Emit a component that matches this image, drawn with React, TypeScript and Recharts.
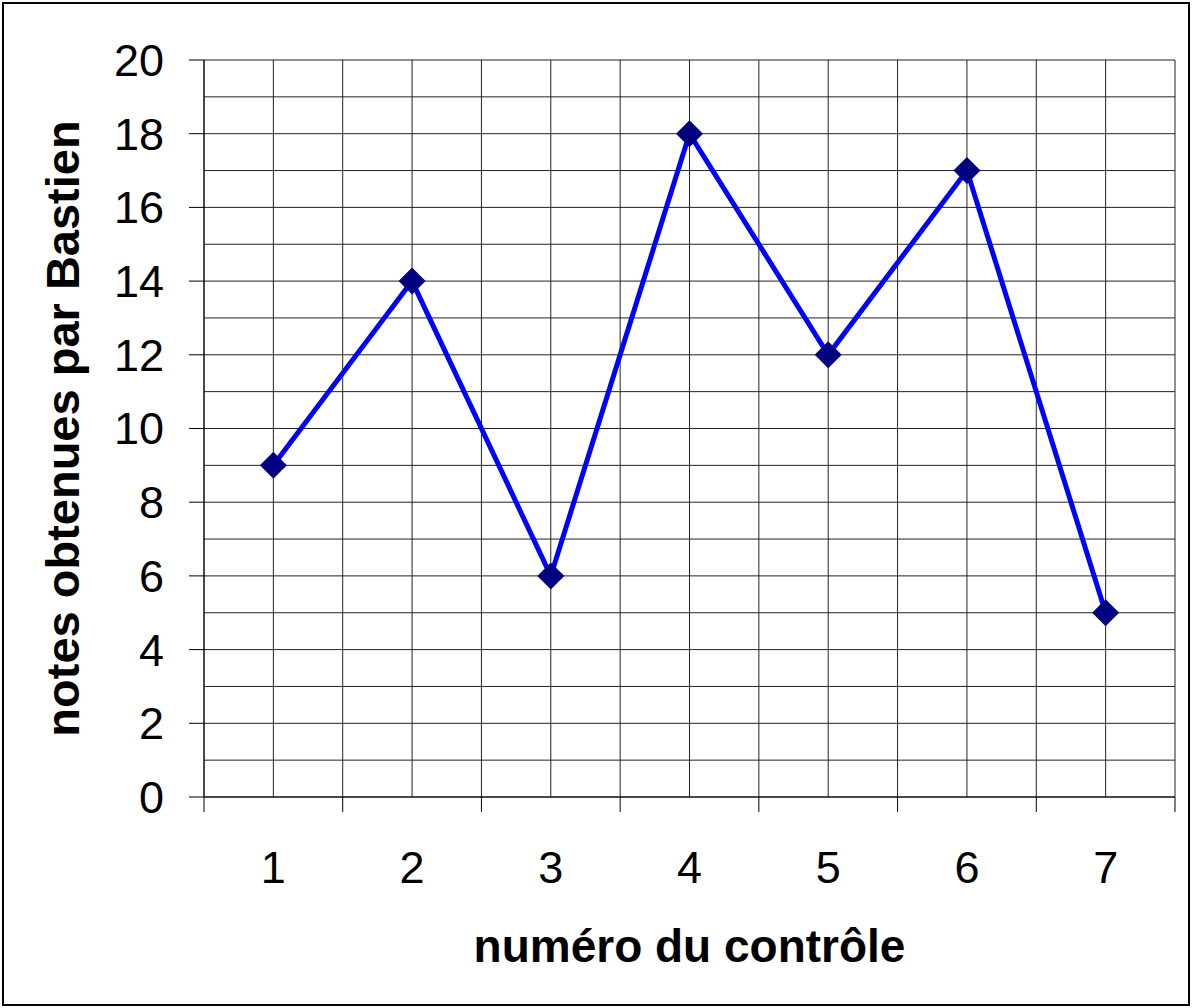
import { LineChart, Line, XAxis, YAxis, CartesianGrid, Label } from 'recharts';

const controles = [1, 2, 3, 4, 5, 6, 7];
const notes = [9, 14, 6, 18, 12, 17, 5];
const xTicks = [0.5, 1, 1.5, 2, 2.5, 3, 3.5, 4, 4.5, 5, 5.5, 6, 6.5, 7, 7.5];
const yTicks = [0, 1, 2, 3, 4, 5, 6, 7, 8, 9, 10, 11, 12, 13, 14, 15, 16, 17, 18, 19, 20];

const data = controles.map((c, i) => ({ controle: c, note: notes[i] }));

const FONT = '"Liberation Sans", Arial, sans-serif';

function XTick(props: any) {
  const { x, y, payload } = props;
  const v = payload.value;
  if (Number.isInteger(v)) {
    return (
      <text x={x} y={y + 86} textAnchor="middle" fontSize={45} fontFamily={FONT} fill="#000">
        {v}
      </text>
    );
  }
  return <line x1={x} x2={x} y1={y} y2={y + 15} stroke="#000" strokeWidth={1} />;
}

function YTick(props: any) {
  const { x, y, payload } = props;
  const v = payload.value;
  if (v % 2 !== 0) return null;
  return (
    <g>
      <line x1={x - 15} x2={x} y1={y} y2={y} stroke="#000" strokeWidth={1} />
      <text x={x - 40} y={y} dy="0.355em" textAnchor="end" fontSize={45} fontFamily={FONT} fill="#000">
        {v}
      </text>
    </g>
  );
}

function Diamond(props: any) {
  const { cx, cy } = props;
  const r = 13.5;
  return (
    <path
      d={`M${cx},${cy - r}L${cx + r},${cy}L${cx},${cy + r}L${cx - r},${cy}Z`}
      fill="#000080"
      stroke="none"
    />
  );
}

function YTitle(props: any) {
  const vb = props.viewBox;
  const cx = vb.x + 79;
  const cy = vb.y + vb.height / 2;
  return (
    <text
      x={cx}
      y={cy}
      transform={`rotate(-90 ${cx} ${cy})`}
      textAnchor="middle"
      fontSize={47}
      fontWeight="bold"
      fontFamily={FONT}
      fill="#000"
    >
      notes obtenues par Bastien
    </text>
  );
}

export default function App() {
  return (
    <div style={{ position: 'absolute', left: 0, top: 0, width: 1192, height: 1008, background: '#fff' }}>
      <LineChart width={1192} height={1008} data={data} margin={{ top: 60, right: 17, left: 0, bottom: 0 }}>
        <CartesianGrid stroke="#222" strokeWidth={1} />
        <XAxis
          dataKey="controle"
          type="number"
          domain={[0.5, 7.5]}
          ticks={xTicks}
          interval={0}
          height={211}
          tickSize={0}
          tickMargin={0}
          tickLine={false}
          tick={<XTick />}
          axisLine={{ stroke: '#000', strokeWidth: 1 }}
        >
          <Label
            value="numéro du contrôle"
            position="insideBottom"
            offset={46}
            style={{ fontSize: 46, fontWeight: 'bold', fontFamily: FONT, fill: '#000' }}
          />
        </XAxis>
        <YAxis
          type="number"
          domain={[0, 20]}
          ticks={yTicks}
          interval={0}
          width={204}
          tickSize={0}
          tickMargin={0}
          tickLine={false}
          tick={<YTick />}
          axisLine={{ stroke: '#000', strokeWidth: 1 }}
        >
          <Label content={<YTitle />} />
        </YAxis>
        <Line
          dataKey="note"
          stroke="#0000FF"
          strokeWidth={5}
          dot={<Diamond />}
          activeDot={false}
          isAnimationActive={false}
        />
      </LineChart>
      <div
        style={{
          position: 'absolute',
          left: 2,
          top: 2,
          width: 1188,
          height: 1004,
          boxSizing: 'border-box',
          border: '2px solid #000',
          pointerEvents: 'none',
        }}
      />
    </div>
  );
}
